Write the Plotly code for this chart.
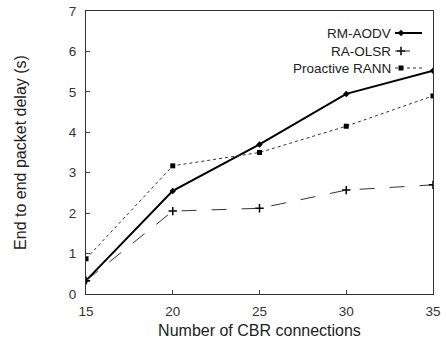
import plotly.graph_objects as go

connections = [15, 20, 25, 30, 35]
rm_aodv = [0.33, 2.55, 3.70, 4.95, 5.52]
ra_olsr = [0.33, 2.05, 2.12, 2.57, 2.70]
proactive_rann = [0.87, 3.17, 3.50, 4.15, 4.90]
series_names = ["RM-AODV", "RA-OLSR", "Proactive RANN"]

styles = [
    dict(line=dict(color="black", width=2), marker=dict(symbol="diamond", size=5, color="black")),
    dict(line=dict(color="#333333", width=1, dash="longdash"),
         marker=dict(symbol="cross-thin", size=6, line=dict(color="black", width=1.5))),
    dict(line=dict(color="#333333", width=1, dash="dot"), marker=dict(symbol="square", size=5, color="black")),
]

fig = go.Figure()
for name, vals, st in zip(series_names, [rm_aodv, ra_olsr, proactive_rann], styles):
    fig.add_trace(go.Scatter(x=connections, y=vals, name=name, mode="lines+markers",
                             showlegend=False, **st))

# custom legend: text on the left, sample line on the right (as in the reference)
L, R, T, B = 86, 13, 11, 48
W, H = 446, 342
pw, ph = W - L - R, H - T - B
def px2x(px): return (px - L) / pw
def px2y(py): return (H - B - py) / ph

FS = 13.5
leg_y = [33, 51, 68]
for name, st, yy in zip(series_names, styles, leg_y):
    fig.add_annotation(x=px2x(393), y=px2y(yy), xref="paper", yref="paper", text=name,
                       showarrow=False, xanchor="right", yanchor="middle",
                       font=dict(size=FS, color="#222222"))
    fig.add_shape(type="line", xref="paper", yref="paper",
                  x0=px2x(395), x1=px2x(422), y0=px2y(yy), y1=px2y(yy),
                  line=dict(color=st["line"]["color"], width=st["line"]["width"],
                            dash=st["line"].get("dash", "solid")))
    fig.add_trace(go.Scatter(x=[px2x(401)], y=[px2y(yy)], xaxis="x2", yaxis="y2",
                             mode="markers", marker=st["marker"], showlegend=False, hoverinfo="skip"))

font = dict(family="Liberation Sans, Arial, sans-serif", size=FS, color="#222222")
fig.update_layout(
    width=W, height=H,
    margin=dict(l=L, r=R, t=T, b=B, autoexpand=False),
    paper_bgcolor="white", plot_bgcolor="white",
    font=font,
    showlegend=False,
    xaxis2=dict(overlaying="x", range=[0, 1], visible=False),
    yaxis2=dict(overlaying="y", range=[0, 1], visible=False),
    xaxis=dict(range=[15, 35], tickvals=[15, 20, 25, 30, 35], ticks="inside", ticklen=4,
               ticklabelstandoff=5, tickfont=dict(color="#333333"), automargin=False,
               showline=True, linecolor="#333333", linewidth=1, mirror=True,
               showgrid=False, zeroline=False,
               title=dict(text="Number of CBR connections", standoff=6)),
    yaxis=dict(range=[0, 7], dtick=1, ticks="inside", ticklen=4,
               ticklabelstandoff=6, tickfont=dict(color="#333333"), automargin=False,
               showline=True, linecolor="#333333", linewidth=1, mirror=True,
               showgrid=False, zeroline=False,
               title=dict(text="End to end packet delay (s)", standoff=38)),
)
fig.write_html("out.html")
